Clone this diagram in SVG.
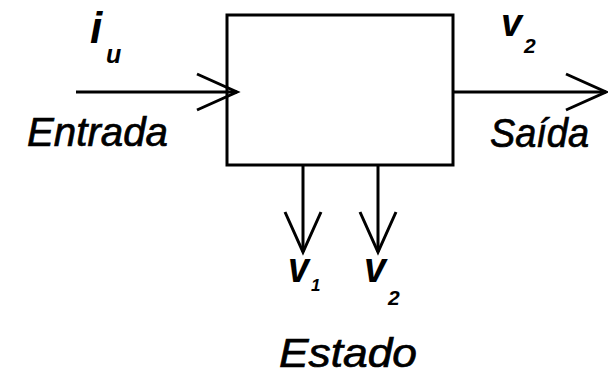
<svg xmlns="http://www.w3.org/2000/svg" width="608" height="376" viewBox="0 0 608 376">
<style>
.ln{stroke:#000;stroke-width:3;fill:none}
.var{font-family:"Liberation Sans",Arial,sans-serif;font-style:italic;font-weight:bold;fill:#000}
.lbl{font-family:"Liberation Sans",Arial,sans-serif;font-style:italic;font-size:41px;fill:#000;stroke:#000;stroke-width:0.7}
</style>
<defs>
<marker id="ah" viewBox="-44 -22 48 44" markerWidth="48" markerHeight="44" refX="0" refY="0" orient="auto" markerUnits="userSpaceOnUse">
<path d="M-40,-18 L0,0 L-40,18" fill="none" stroke="#000" stroke-width="3"/>
</marker>
</defs>
<rect width="608" height="376" fill="#fff"/>
<g id="block">
<rect class="ln" x="227" y="15" width="226" height="150"/>
</g>
<g id="connectors">
<line class="ln" x1="76" y1="92" x2="237" y2="92" marker-end="url(#ah)"/>
<line class="ln" x1="453" y1="92" x2="606" y2="92" marker-end="url(#ah)"/>
<line class="ln" x1="303" y1="165" x2="303" y2="252" marker-end="url(#ah)"/>
<line class="ln" x1="378" y1="165" x2="378" y2="252" marker-end="url(#ah)"/>
</g>
<g id="input">
<text class="var" x="90" y="43" font-size="44">i</text>
<text class="var" x="106" y="63" font-size="25" font-weight="normal">u</text>
<text class="lbl" x="27" y="146" textLength="141" lengthAdjust="spacingAndGlyphs">Entrada</text>
</g>
<g id="output">
<text class="var" x="501" y="36" font-size="38" textLength="21" lengthAdjust="spacingAndGlyphs">v</text>
<text class="var" x="524" y="53" font-size="21" font-weight="normal">2</text>
<text class="lbl" x="490" y="147" textLength="99" lengthAdjust="spacingAndGlyphs">Saída</text>
</g>
<g id="state">
<text class="var" x="288" y="282" font-size="42" textLength="21" lengthAdjust="spacingAndGlyphs">v</text>
<text class="var" x="311" y="291" font-size="17">1</text>
<text class="var" x="364" y="282" font-size="42" textLength="22" lengthAdjust="spacingAndGlyphs">v</text>
<text class="var" x="388" y="305" font-size="21" font-weight="normal">2</text>
<text class="lbl" x="279" y="367" textLength="138" lengthAdjust="spacingAndGlyphs">Estado</text>
</g>
</svg>
